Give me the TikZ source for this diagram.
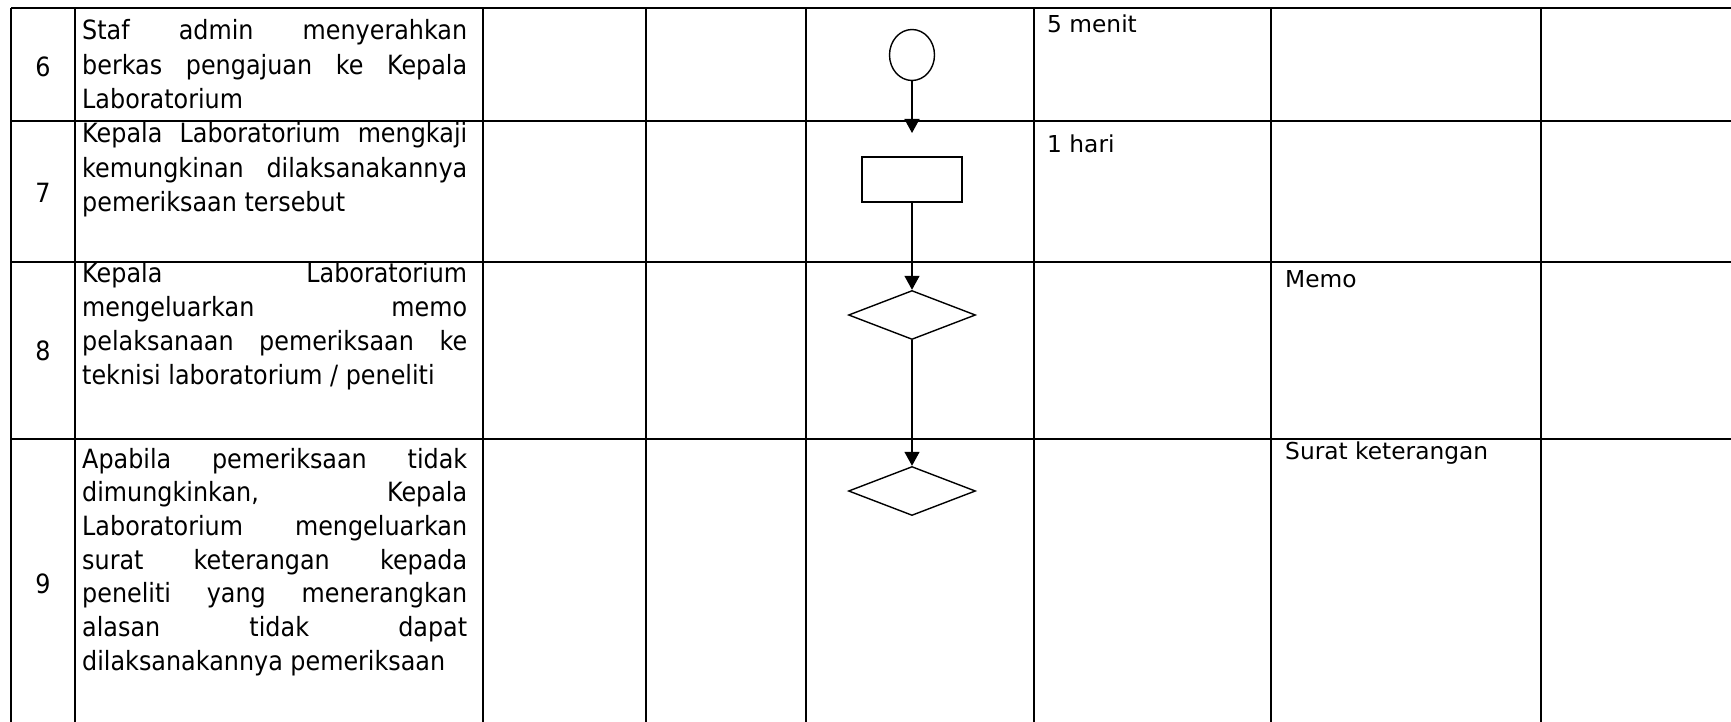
\documentclass[tikz,border=0pt]{standalone}
\usepackage{fontspec}
\setmainfont{DejaVu Sans}
\newfontfamily\lfont[FakeStretch=0.9]{DejaVu Sans}
\newfontfamily\rfont{DejaVu Sans}
\usetikzlibrary{shapes.geometric,arrows.meta}
\newlength\mywA
\newlength\mywB
\newcommand\jl[1]{\hbox to 385pt{#1}}
\newcommand\nl[1]{\hbox{#1}}
\begin{document}%
\settowidth\mywA{\lfont\fontsize{10pt}{12pt}\selectfont dilaksanakannya pemeriksaan}%
\pgfmathsetmacro\lsize{10*363/\mywA}%
\settowidth\mywB{\rfont\fontsize{10pt}{12pt}\selectfont Surat keterangan}%
\pgfmathsetmacro\rsize{10*203/\mywB}%
\begin{tikzpicture}[x=1pt,y=-1pt]
\tikzset{
  grid/.style={line width=2pt, black},
  lefttext/.style={anchor=base west, inner sep=0pt, font=\lfont\fontsize{\lsize pt}{34.3pt}\selectfont},
  numtext/.style={anchor=base, inner sep=0pt, font=\lfont\fontsize{\lsize pt}{34.3pt}\selectfont},
  righttext/.style={anchor=base west, inner sep=0pt, font=\rfont\fontsize{\rsize pt}{20pt}\selectfont},
  shp/.style={draw, line width=1.4pt, inner sep=0pt},
  conn/.style={line width=1.4pt, -{Triangle[width=15pt,length=14pt]}}
}
\useasboundingbox (0,0) rectangle (1731,722);
% table grid
\foreach \yy in {8,121,262,439} \draw[grid] (11,\yy) -- (1731,\yy);
\foreach \xx in {11,75,483,646,806,1034,1271,1541} \draw[grid] (\xx,8) -- (\xx,722);
% numbers
\node[numtext] (n6) at (43,77) {6};
\node[numtext] (n7) at (43,202) {7};
\node[numtext] (n8) at (43,360) {8};
\node[numtext] (n9) at (43,593) {9};
% descriptions
\node[lefttext] (t6) at (82,40) {\vtop{\baselineskip=34.3pt\lineskiplimit=-100pt
  \jl{Staf\hfill admin\hfill menyerahkan}
  \jl{berkas\hfill pengajuan\hfill ke\hfill Kepala}
  \nl{Laboratorium}}};
\node[lefttext] (t7) at (82,143) {\vtop{\baselineskip=34.3pt\lineskiplimit=-100pt
  \jl{Kepala\hfill Laboratorium\hfill mengkaji}
  \jl{kemungkinan\hfill dilaksanakannya}
  \nl{pemeriksaan tersebut}}};
\node[lefttext] (t8) at (82,282) {\vtop{\baselineskip=34.3pt\lineskiplimit=-100pt
  \jl{Kepala\hfill Laboratorium}
  \jl{mengeluarkan\hfill memo}
  \jl{pelaksanaan\hfill pemeriksaan\hfill ke}
  \nl{teknisi laboratorium / peneliti}}};
\node[lefttext] (t9) at (82,468) {\vtop{\baselineskip=33.7pt\lineskiplimit=-100pt
  \jl{Apabila\hfill pemeriksaan\hfill tidak}
  \jl{dimungkinkan,\hfill Kepala}
  \jl{Laboratorium\hfill mengeluarkan}
  \jl{surat\hfill keterangan\hfill kepada}
  \jl{peneliti\hfill yang\hfill menerangkan}
  \jl{alasan\hfill tidak\hfill dapat}
  \nl{dilaksanakannya pemeriksaan}}};
% time / output texts
\node[righttext] (w6) at (1047,33) {5 menit};
\node[righttext] (w7) at (1047,153) {1 hari};
\node[righttext] (o8) at (1285,287) {Memo};
\node[righttext] (o9) at (1285,459) {Surat keterangan};
% flow shapes
\node[shp, ellipse, minimum width=45pt, minimum height=51pt] (c6) at (912,55) {};
\node[shp, rectangle, minimum width=100pt, minimum height=45pt] (r7) at (912,179.5) {};
\node[shp, diamond, minimum width=127pt, minimum height=49pt] (d8) at (912,315) {};
\node[shp, diamond, minimum width=127pt, minimum height=49pt] (d9) at (912,491) {};
\coordinate (a6) at (912,133);
\draw[conn] (c6.south) -- (a6);
\draw[conn] (r7.south) -- (d8.north);
\draw[conn] (d8.south) -- (d9.north);
\end{tikzpicture}%
\end{document}
